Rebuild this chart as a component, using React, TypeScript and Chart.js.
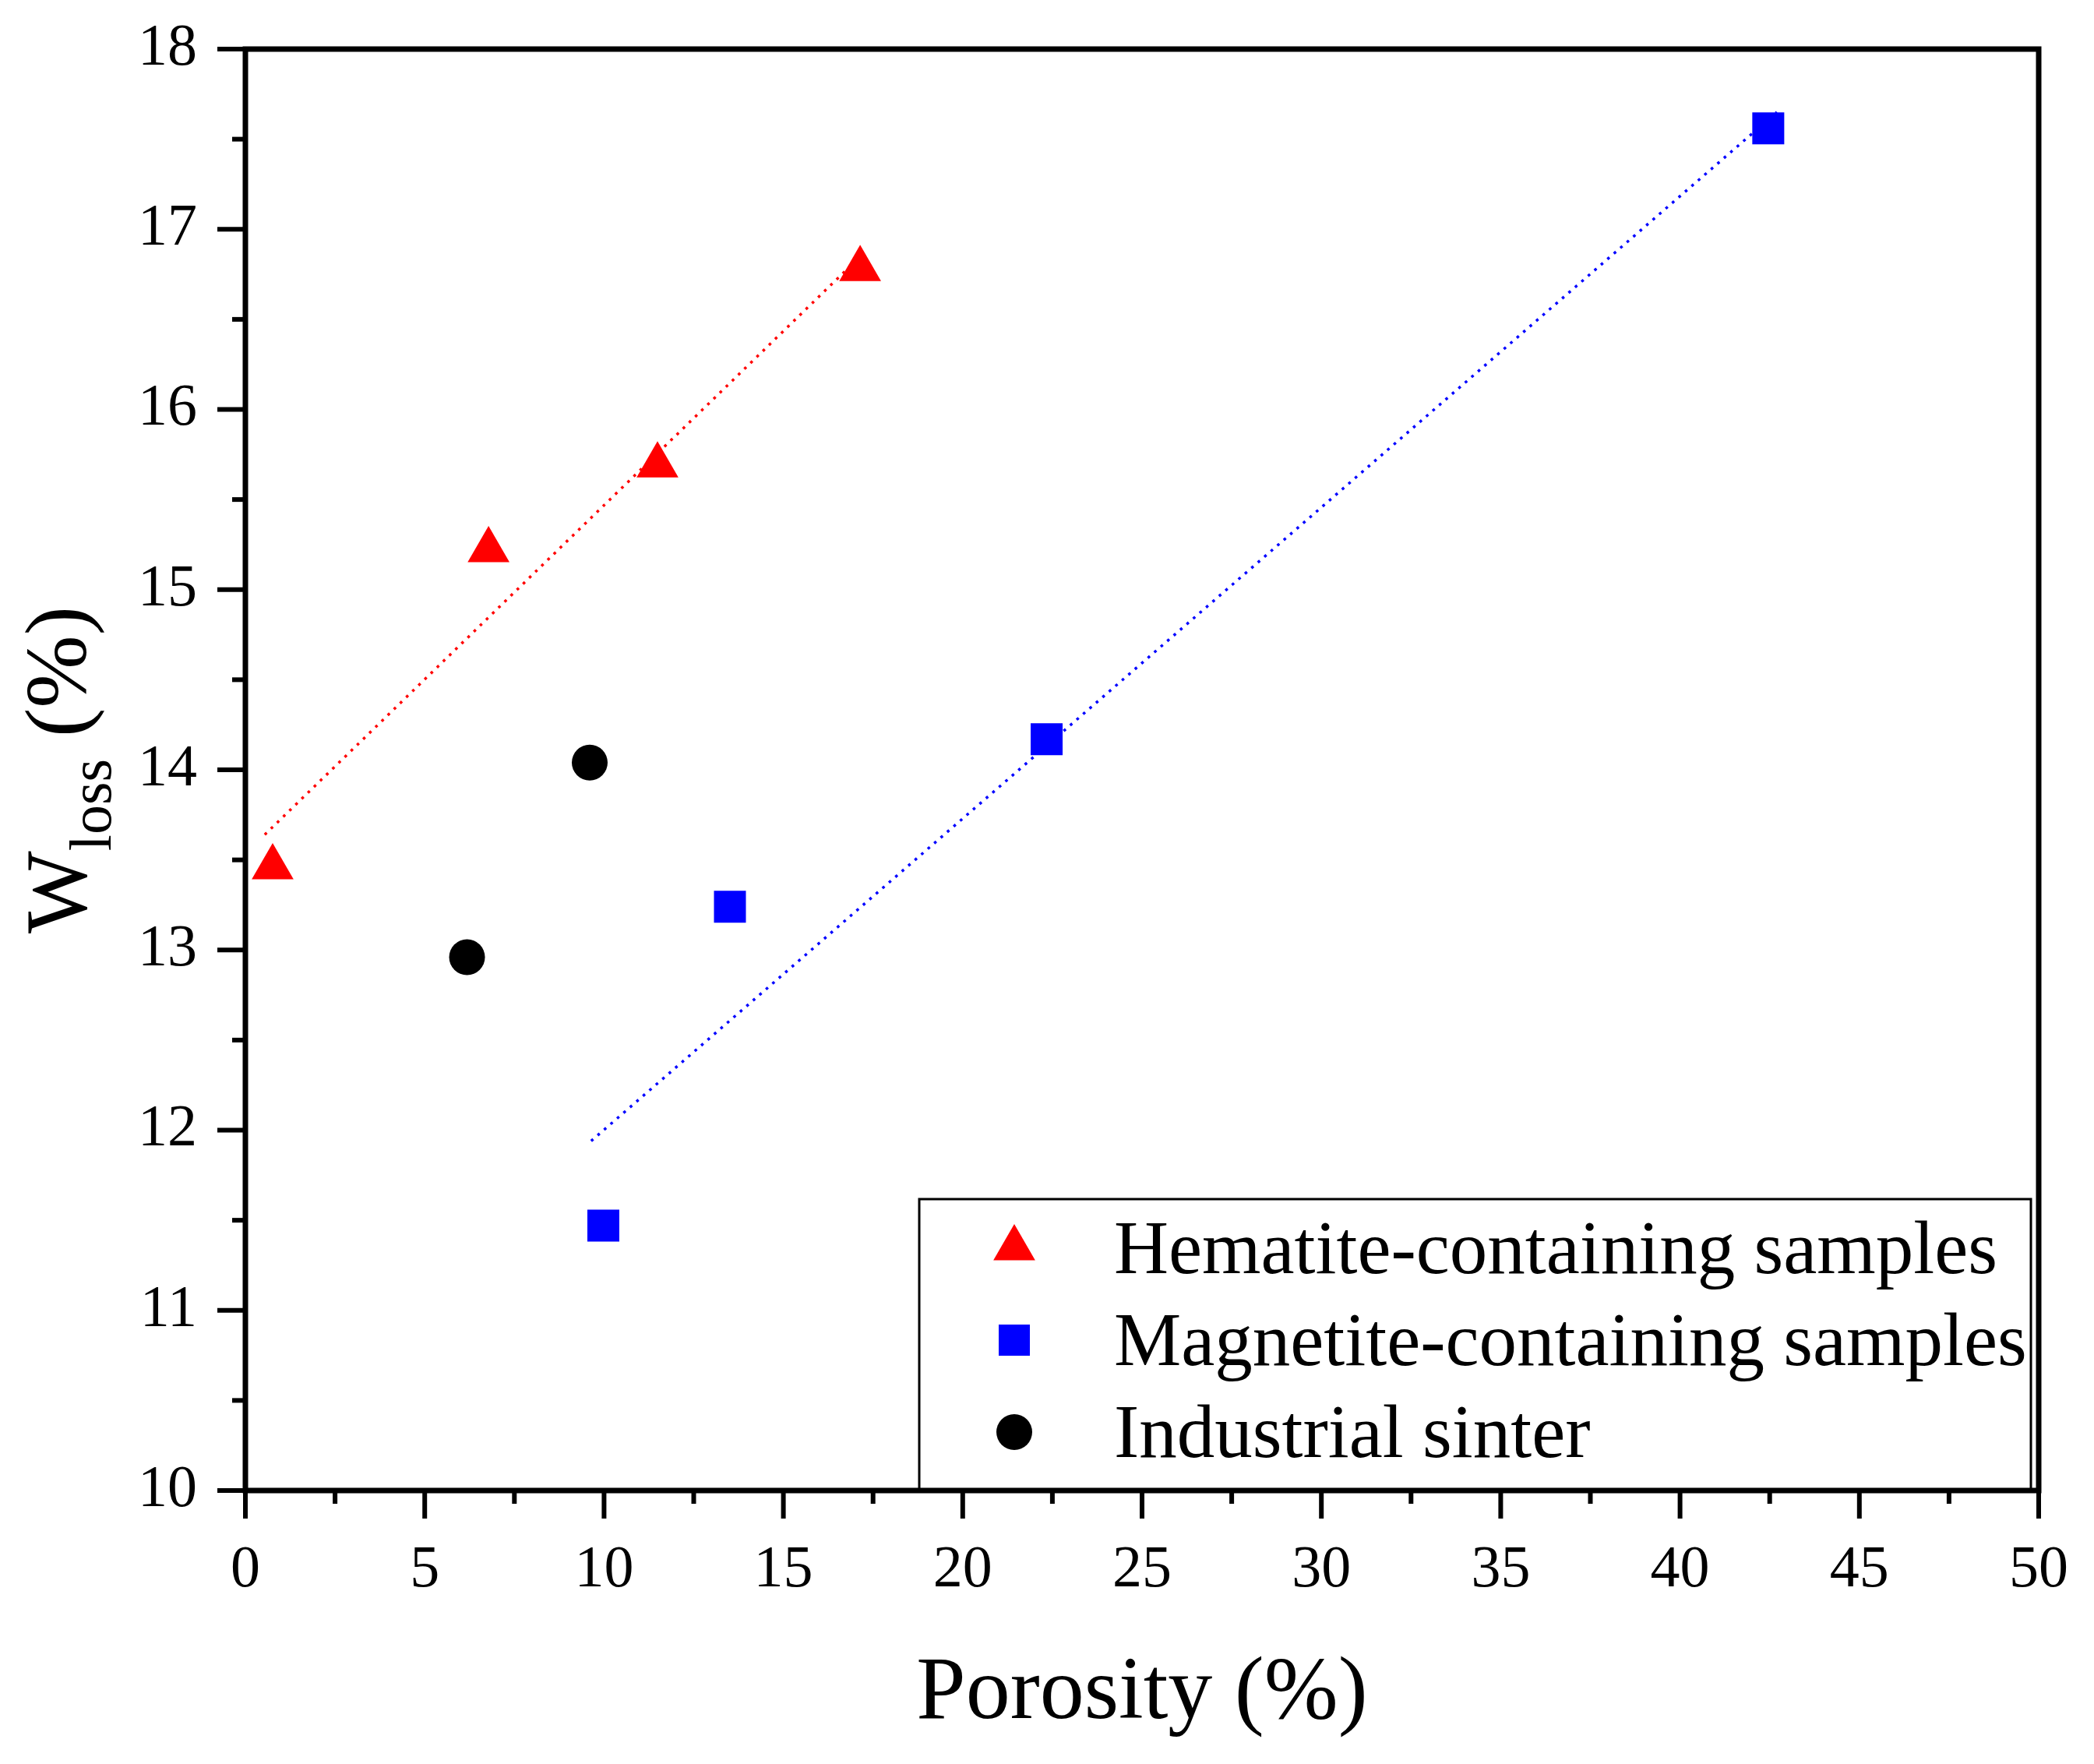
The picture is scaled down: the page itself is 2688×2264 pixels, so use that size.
import { useEffect, useRef } from "react"
import { Chart, registerables } from "chart.js"

Chart.register(...registerables)

// values
const hematiteX = [0.76, 6.78, 11.49, 17.14]
const hematiteY = [13.46, 15.22, 15.69, 16.78]
const magnetiteX = [9.98, 13.51, 22.34, 42.46]
const magnetiteY = [11.47, 13.24, 14.17, 17.56]
const sinterX = [6.18, 9.6]
const sinterY = [12.96, 14.04]
// dotted fit lines, end points
const hematiteFitX = [0.54, 17.2]
const hematiteFitY = [13.64, 16.86]
const magnetiteFitX = [9.64, 42.7]
const magnetiteFitY = [11.94, 17.65]

const seriesLabels = ["Hematite-containing samples", "Magnetite-containing samples", "Industrial sinter"]
const seriesColors = ["#ff0000", "#0000ff", "#000000"]
const seriesShapes = ["triangle", "rect", "circle"]

const xTitle = "Porosity (%)"
const SERIF = "'Liberation Serif', 'Times New Roman', serif"

const W = 2672
const H = 2248

const toPoints = (xs: number[], ys: number[]) => xs.map((x, i) => ({ x, y: ys[i] }))

function drawMarker(ctx: CanvasRenderingContext2D, shape: string, x: number, y: number) {
  ctx.beginPath()
  if (shape === "triangle") {
    const r = 31
    ctx.moveTo(x, y - r)
    ctx.lineTo(x + r * Math.sin((2 * Math.PI) / 3), y + r / 2)
    ctx.lineTo(x - r * Math.sin((2 * Math.PI) / 3), y + r / 2)
    ctx.closePath()
  } else if (shape === "rect") {
    const s = 40
    ctx.rect(x - s / 2, y - s / 2, s, s)
  } else {
    ctx.arc(x, y, 23, 0, Math.PI * 2)
  }
  ctx.fill()
}

const decorations = {
  id: "decorations",
  afterDraw(chart: Chart) {
    const { ctx, chartArea: a } = chart
    const xs = chart.scales.x
    const ys = chart.scales.y
    ctx.save()
    ctx.strokeStyle = "#000"
    ctx.lineCap = "butt"

    // tick marks (major long, minor short), outward
    ctx.lineWidth = 6
    xs.ticks.forEach((t) => {
      const px = xs.getPixelForValue(t.value)
      const len = Math.abs(t.value % 5) < 1e-6 ? 36 : 17
      ctx.beginPath()
      ctx.moveTo(px, a.bottom)
      ctx.lineTo(px, a.bottom + len)
      ctx.stroke()
    })
    ys.ticks.forEach((t) => {
      const py = ys.getPixelForValue(t.value)
      const len = Math.abs(t.value - Math.round(t.value)) < 1e-6 ? 36 : 17
      ctx.beginPath()
      ctx.moveTo(a.left, py)
      ctx.lineTo(a.left - len, py)
      ctx.stroke()
    })

    // legend box
    const bx = a.left + 865
    const by = a.top + 1476
    const bw = a.right - 10 - bx
    const bh = a.bottom - by
    ctx.fillStyle = "#fff"
    ctx.fillRect(bx, by, bw, bh)
    ctx.lineWidth = 3
    ctx.strokeRect(bx, by, bw, bh)
    ctx.font = `97px ${SERIF}`
    ctx.textAlign = "left"
    ctx.textBaseline = "alphabetic"
    seriesLabels.forEach((label, i) => {
      const base = by + 95 + i * 118
      ctx.fillStyle = seriesColors[i]
      drawMarker(ctx, seriesShapes[i], bx + 122, base - 32)
      ctx.fillStyle = "#000"
      ctx.fillText(label, bx + 250, base)
    })

    // frame
    ctx.lineWidth = 7
    ctx.strokeRect(a.left, a.top, a.right - a.left, a.bottom - a.top)

    // x title
    ctx.fillStyle = "#000"
    ctx.font = `114px ${SERIF}`
    ctx.textAlign = "center"
    ctx.fillText(xTitle, (a.left + a.right) / 2, 2197)

    // y title with subscript
    ctx.save()
    ctx.translate(102, (a.top + a.bottom) / 2)
    ctx.rotate(-Math.PI / 2)
    ctx.textAlign = "left"
    ctx.font = `112px ${SERIF}`
    const wMain = ctx.measureText("W").width
    const wRest = ctx.measureText(" (%)").width
    ctx.font = `76px ${SERIF}`
    const wSub = ctx.measureText("loss").width
    let sx = -(wMain + wSub + wRest) / 2
    ctx.font = `112px ${SERIF}`
    ctx.fillText("W", sx, 0)
    sx += wMain
    ctx.font = `76px ${SERIF}`
    ctx.fillText("loss", sx, 32)
    sx += wSub
    ctx.font = `112px ${SERIF}`
    ctx.fillText(" (%)", sx, 0)
    ctx.restore()

    ctx.restore()
  },
}

const hiddenGrid = (len: number) => ({
  display: true,
  drawOnChartArea: false,
  drawTicks: true,
  tickLength: len,
  color: "rgba(0,0,0,0)",
  tickColor: "rgba(0,0,0,0)",
})

export default function App() {
  const canvasRef = useRef<HTMLCanvasElement | null>(null)

  useEffect(() => {
    if (!canvasRef.current) return
    const chart = new Chart(canvasRef.current, {
      type: "scatter",
      data: {
        datasets: [
          {
            label: seriesLabels[0],
            data: toPoints(hematiteX, hematiteY),
            pointStyle: "triangle",
            pointRadius: 31,
            backgroundColor: seriesColors[0],
            borderWidth: 0,
          },
          {
            label: seriesLabels[1],
            data: toPoints(magnetiteX, magnetiteY),
            pointStyle: "rect",
            pointRadius: 29,
            backgroundColor: seriesColors[1],
            borderWidth: 0,
          },
          {
            label: seriesLabels[2],
            data: toPoints(sinterX, sinterY),
            pointStyle: "circle",
            pointRadius: 23,
            backgroundColor: seriesColors[2],
            borderWidth: 0,
          },
          {
            label: "hematite fit",
            data: toPoints(hematiteFitX, hematiteFitY),
            showLine: true,
            pointRadius: 0,
            borderColor: seriesColors[0],
            borderWidth: 3.5,
            borderDash: [3.5, 7.5],
          },
          {
            label: "magnetite fit",
            data: toPoints(magnetiteFitX, magnetiteFitY),
            showLine: true,
            pointRadius: 0,
            borderColor: seriesColors[1],
            borderWidth: 3.5,
            borderDash: [3.5, 7.5],
          },
        ],
      },
      options: {
        animation: false,
        responsive: false,
        devicePixelRatio: 1,
        events: [],
        layout: { padding: { top: 55, right: 63, left: 0, bottom: 0 } },
        plugins: {
          legend: { display: false },
          tooltip: { enabled: false },
        },
        scales: {
          x: {
            type: "linear",
            min: 0,
            max: 50,
            grid: hiddenGrid(57),
            border: { display: false },
            ticks: {
              stepSize: 2.5,
              autoSkip: false,
              maxRotation: 0,
              padding: 0,
              color: "#000",
              font: { family: SERIF, size: 76 },
              callback: (v) => (Math.abs(Number(v) % 5) < 1e-6 ? String(v) : ""),
            },
            afterFit: (s) => {
              s.height = 343
            },
          },
          y: {
            type: "linear",
            min: 10,
            max: 18,
            grid: hiddenGrid(62),
            border: { display: false },
            ticks: {
              stepSize: 0.5,
              autoSkip: false,
              padding: 0,
              color: "#000",
              font: { family: SERIF, size: 76 },
              callback: (v) => (Number.isInteger(Number(v)) ? String(v) : ""),
            },
            afterFit: (s) => {
              s.width = 307
            },
          },
        },
      },
      plugins: [decorations],
    })

    return () => {
      chart.destroy()
    }
  }, [])

  return (
    <div style={{ width: W, height: H, background: "#fff" }}>
      <canvas ref={canvasRef} width={W} height={H} style={{ display: "block" }} />
    </div>
  )
}
